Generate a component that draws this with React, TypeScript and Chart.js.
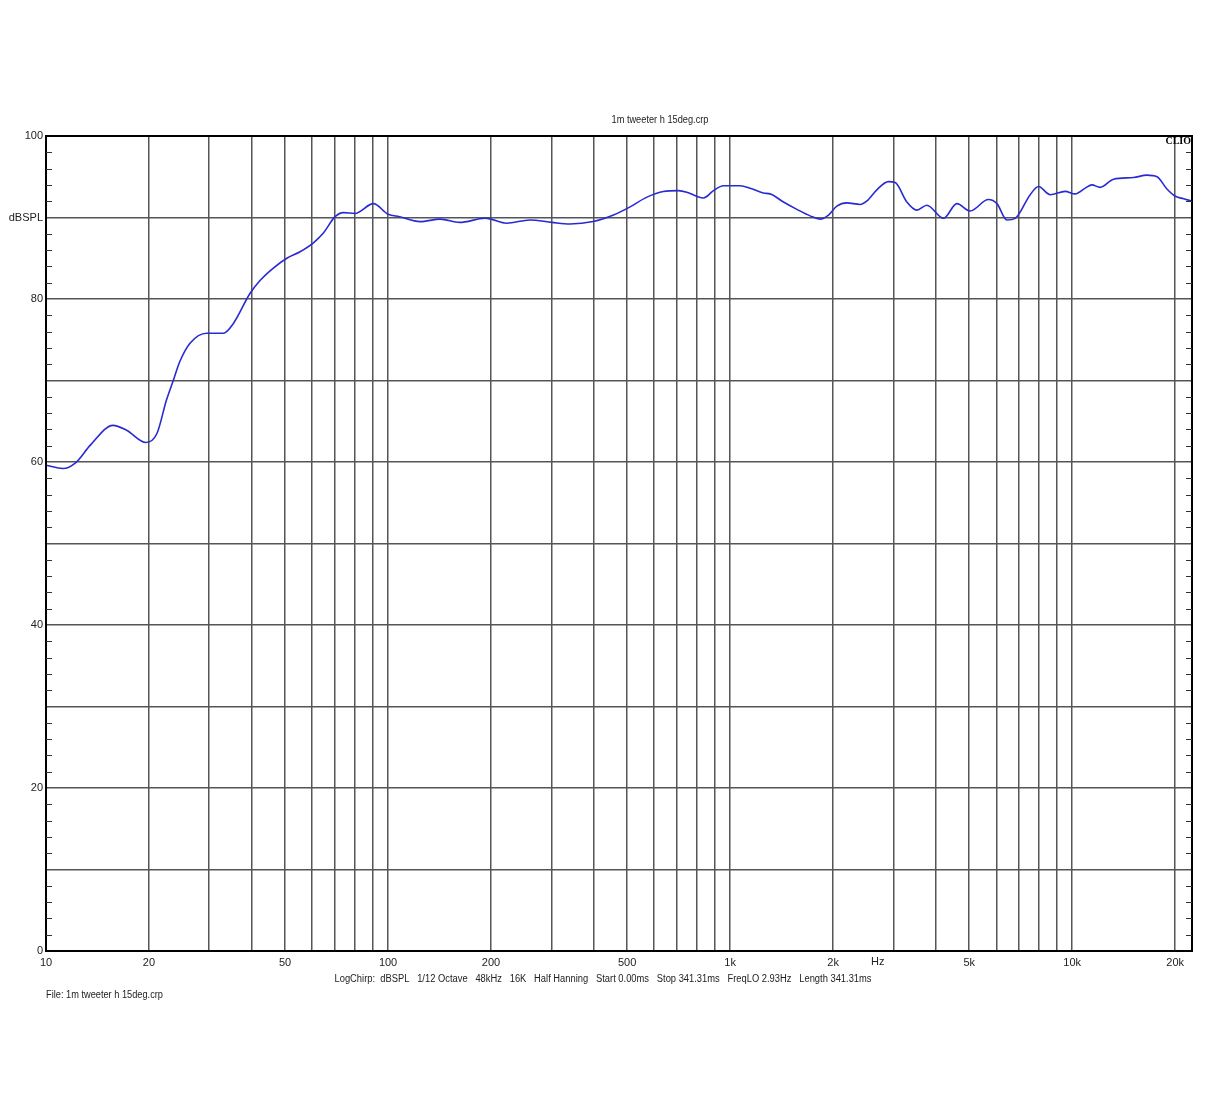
import React, { useEffect, useRef } from "react";
import { Chart, registerables } from "chart.js";

Chart.register(...registerables);

const titleText = "1m tweeter h 15deg.crp";
const infoText =
  "LogChirp:  dBSPL   1/12 Octave   48kHz   16K   Half Hanning   Start 0.00ms   Stop 341.31ms   FreqLO 2.93Hz   Length 341.31ms";
const fileText = "File: 1m tweeter h 15deg.crp";
const brandText = "CLIO";
const unitText = "Hz";
const unitFreq = 2700;

const freqs = [
  10, 11.2, 12.2, 13.5, 15.7, 17.2, 19.6, 21.1, 22.5, 23.6, 24.6, 26.4, 29.5, 33, 35.3, 39.5, 42.3, 46.2,
  50.6, 55.3, 60.5, 64.7, 70, 74, 80, 90.6, 100, 108, 124, 142, 162, 192, 200, 222, 260, 301, 340, 398,
  456, 510, 571, 638, 706, 747, 799, 836, 894, 956, 1070, 1144, 1251, 1309, 1432, 1567, 1714, 1833, 1939,
  2051, 2193, 2399, 2507, 2685, 2903, 3037, 3286, 3515, 3759, 4206, 4600, 5033, 5690, 6025, 6444, 6815,
  7537, 7972, 8626, 9540, 10205, 10915, 11416, 12078, 13207, 15110, 16528, 17700, 18920, 20040, 21160, 22400,
];
const spl = [
  59.6, 59.2, 59.9, 62.1, 64.5, 63.9, 62.4, 63.5, 67.6, 70.1, 72.3, 74.6, 75.8, 75.8, 77.0, 80.7, 82.3, 83.8,
  85.0, 85.8, 86.9, 88.1, 90.1, 90.6, 90.5, 91.7, 90.4, 90.1, 89.5, 89.8, 89.4, 89.9, 89.8, 89.3, 89.7, 89.4,
  89.2, 89.5, 90.3, 91.3, 92.5, 93.2, 93.3, 93.1, 92.6, 92.4, 93.3, 93.9, 93.9, 93.6, 93.0, 92.9, 91.9, 91.0,
  90.2, 89.8, 90.3, 91.4, 91.8, 91.6, 92.0, 93.4, 94.4, 94.3, 91.9, 90.9, 91.5, 89.9, 91.7, 90.8, 92.2, 91.7,
  89.7, 89.9, 92.8, 93.8, 92.8, 93.2, 92.9, 93.6, 94.0, 93.7, 94.7, 94.9, 95.2, 95.0, 93.5, 92.6, 92.3, 92.0,
];

const xGridValues = [
  10, 20, 30, 40, 50, 60, 70, 80, 90, 100, 200, 300, 400, 500, 600, 700, 800, 900, 1000, 2000, 3000, 4000,
  5000, 6000, 7000, 8000, 9000, 10000, 20000,
];
const xLabelValues = [10, 20, 50, 100, 200, 500, 1000, 2000, 5000, 10000, 20000];
const xLabelTexts = ["10", "20", "50", "100", "200", "500", "1k", "2k", "5k", "10k", "20k"];

const yMin = 0;
const yMax = 100;
const yGridStep = 10;
const yMinorStep = 2;
const yLabelValues = [0, 20, 40, 60, 80, 90, 100];
const yLabelTexts = ["0", "20", "40", "60", "80", "dBSPL", "100"];

const xMin = 10;
const xMax = 22400;

const FONT = '"Liberation Sans", Arial, sans-serif';

const decorPlugin = {
  id: "decor",
  afterDraw(chart: any) {
    const { ctx, chartArea } = chart;
    const xs = chart.scales.x;
    const ys = chart.scales.y;
    ctx.save();
    // frame
    ctx.strokeStyle = "#000";
    ctx.lineWidth = 2;
    ctx.strokeRect(chartArea.left, chartArea.top, chartArea.right - chartArea.left, chartArea.bottom - chartArea.top);
    // minor ticks inside left and right
    ctx.lineWidth = 1;
    ctx.strokeStyle = "#333";
    for (let v = yMin; v <= yMax; v += yMinorStep) {
      if (v % yGridStep === 0) continue;
      const py = Math.round(ys.getPixelForValue(v)) + 0.5;
      ctx.beginPath();
      ctx.moveTo(chartArea.left, py);
      ctx.lineTo(chartArea.left + 6, py);
      ctx.moveTo(chartArea.right - 6, py);
      ctx.lineTo(chartArea.right, py);
      ctx.stroke();
    }
    // texts
    ctx.fillStyle = "#222";
    ctx.font = `10px ${FONT}`;
    ctx.textAlign = "center";
    ctx.textBaseline = "middle";
    ctx.fillText(titleText, 660, 120, 97);
    ctx.font = `11px ${FONT}`;
    ctx.fillText(unitText, xs.getPixelForValue(unitFreq), chartArea.bottom + 11);
    ctx.font = `10px ${FONT}`;
    ctx.fillText(infoText, 603, 979, 537);
    ctx.textAlign = "left";
    ctx.fillText(fileText, chartArea.left, 995, 117);
    ctx.font = `bold 10px "Liberation Serif", "DejaVu Serif", serif`;
    ctx.textAlign = "right";
    ctx.fillStyle = "#000";
    ctx.fillText(brandText, chartArea.right - 1, chartArea.top + 5);
    ctx.restore();
  },
};

export default function App() {
  const ref = useRef<HTMLCanvasElement | null>(null);
  useEffect(() => {
    if (!ref.current) return;
    const chart = new Chart(ref.current, {
      type: "line",
      data: {
        datasets: [
          {
            data: freqs.map((f, i) => ({ x: f, y: spl[i] })),
            borderColor: "#2a2ad2",
            borderWidth: 1.6,
            pointRadius: 0,
            cubicInterpolationMode: "monotone",
            fill: false,
          },
        ],
      },
      options: {
        responsive: false,
        animation: false,
        devicePixelRatio: 1,
        layout: { padding: { left: 6, right: 24, top: 136, bottom: 149 } },
        plugins: { legend: { display: false }, tooltip: { enabled: false }, title: { display: false } },
        scales: {
          x: {
            type: "logarithmic",
            min: xMin,
            max: xMax,
            afterBuildTicks: (scale: any) => {
              scale.ticks = xGridValues.map((v) => ({ value: v }));
            },
            afterFit: (scale: any) => {
              scale.height = 20;
            },
            ticks: {
              autoSkip: false,
              maxRotation: 0,
              minRotation: 0,
              padding: 5,
              color: "#222",
              font: { family: FONT, size: 11 },
              callback: (value: any) => {
                const i = xLabelValues.indexOf(Number(value));
                return i >= 0 ? xLabelTexts[i] : "";
              },
            },
            grid: { color: "#555", lineWidth: 1.5, drawTicks: false },
            border: { color: "#000", width: 2 },
          },
          y: {
            type: "linear",
            min: yMin,
            max: yMax,
            afterBuildTicks: (scale: any) => {
              const t = [];
              for (let v = yMin; v <= yMax; v += yGridStep) t.push({ value: v });
              scale.ticks = t;
            },
            afterFit: (scale: any) => {
              scale.width = 40;
            },
            ticks: {
              padding: 3,
              color: "#222",
              font: { family: FONT, size: 11 },
              callback: (value: any) => {
                const i = yLabelValues.indexOf(Number(value));
                return i >= 0 ? yLabelTexts[i] : "";
              },
            },
            grid: { color: "#555", lineWidth: 1.5, drawTicks: false },
            border: { color: "#000", width: 2 },
          },
        },
      },
      plugins: [decorPlugin],
    } as any);
    return () => chart.destroy();
  }, []);
  return (
    <div style={{ position: "absolute", left: 0, top: 0, width: 1216, height: 1120, background: "#fff" }}>
      <canvas ref={ref} width={1216} height={1120} style={{ display: "block" }} />
    </div>
  );
}
